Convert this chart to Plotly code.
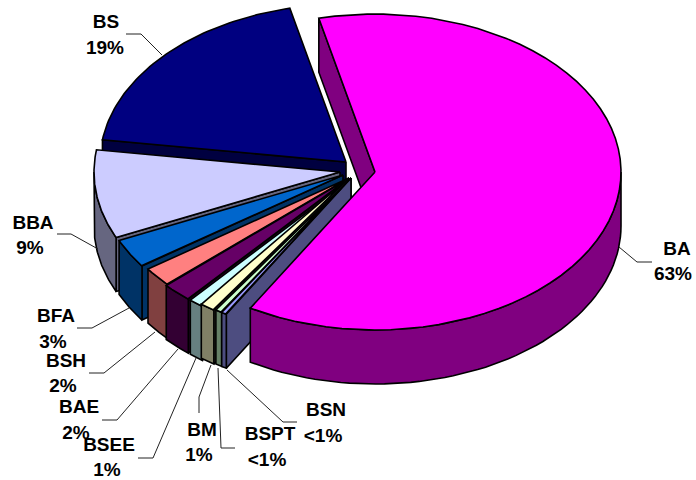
import numpy as np
import plotly.graph_objects as go

# clockwise from the top of the pie, starting with the big slice
names = ['BA', 'BSN', 'BSPT', 'BM', 'BSEE', 'BAE', 'BSH', 'BFA', 'BBA', 'BS']
values = [62.5, 0.35, 0.45, 1, 1, 2, 2, 3, 9.1, 19.2]
pct_labels = ['63%', '<1%', '<1%', '1%', '1%', '2%', '2%', '3%', '9%', '19%']
colors = ['#FF00FF', '#9999FF', '#CCFFCC', '#FFFFCC', '#CCFFFF',
          '#660066', '#FF8080', '#0066CC', '#CCCCFF', '#000080']
side_colors = ['#800080', '#4D4D80', '#668066', '#808066', '#668080',
               '#330033', '#804040', '#003366', '#666680', '#000040']

# pie geometry in page pixels
rx, ry, depth = 246, 158, 54
start_angle = -13.2
apex_x = [375, 351, 351, 349, 350, 348, 349, 343, 340, 346]
apex_y = [172, 178, 178, 178, 180, 179, 178, 175, 172, 162]

# label placement: name line, then percent line
name_x = [677, 326, 270, 202, 109, 79, 66, 56, 33, 106]
name_y = [250, 411, 435, 431, 446, 408, 362, 317, 224, 23]
pct_x = [673, 323, 267, 199, 107, 76, 63, 53, 30, 105]
pct_y = [275, 437, 461, 456, 471, 434, 387, 343, 249, 49]

leaders = [
    ([619, 637, 652], [247, 262, 262]),
    ([297, 283, 227], [422, 422, 370]),
    ([235, 221, 218], [448, 448, 368]),
    ([199, 199, 211], [413, 397, 365]),
    ([138, 153, 196], [458, 458, 358]),
    ([102, 117, 178], [420, 420, 349]),
    ([89, 104, 155], [373, 373, 332]),
    ([77, 92, 129], [328, 328, 308]),
    ([57, 71, 98], [234, 234, 249]),
    ([126, 141, 162], [34, 34, 55]),
]


def arc(cx, cy, a, b, n=60):
    t = np.radians(np.linspace(a, b, n))
    return cx + rx * np.sin(t), cy - ry * np.cos(t)


def poly(fig, xs, ys, color):
    fig.add_trace(go.Scatter(x=xs, y=ys, mode='lines', fill='toself', fillcolor=color,
                             line=dict(color='black', width=1.6), hoverinfo='skip'))


def draw_slice(fig, cx, cy, a, b, color, side):
    # cut face on the counter-clockwise edge
    px, py = arc(cx, cy, a, a, 1)
    poly(fig, [cx, px[0], px[0], cx, cx], [cy, py[0], py[0] + depth, cy + depth, cy], side)
    # outer wall, only the part that faces the viewer (lower half of the ellipse)
    for lo, hi in [(-270, -90), (90, 270)]:
        wa, wb = max(a, lo), min(b, hi)
        if wb > wa:
            ax, ay = arc(cx, cy, wa, wb)
            poly(fig, list(ax) + list(ax[::-1]) + [ax[0]],
                 list(ay) + list(ay[::-1] + depth) + [ay[0]], side)
    # top
    tx, ty = arc(cx, cy, a, b)
    poly(fig, [cx] + list(tx) + [cx], [cy] + list(ty) + [cy], color)


sweeps = np.array(values) / sum(values) * 360
starts = start_angle + np.concatenate([[0], np.cumsum(sweeps)[:-1]])
# the small slices run on from the end of BA, keep them on the left side
starts[1:] = starts[1:] - 360

fig = go.Figure()

# back to front: BS first, then round to the big slice which goes on top
for i in list(range(len(names) - 1, 0, -1)) + [0]:
    draw_slice(fig, apex_x[i], apex_y[i], starts[i], starts[i] + sweeps[i], colors[i], side_colors[i])

for lx, ly in leaders:
    fig.add_trace(go.Scatter(x=lx, y=ly, mode='lines', line=dict(color='#222222', width=1),
                             hoverinfo='skip'))

fig.add_trace(go.Scatter(x=name_x + pct_x, y=name_y + pct_y, mode='text',
                         text=names + pct_labels, textposition='middle center',
                         textfont=dict(family='Liberation Sans', size=19, color='black', weight='bold'),
                         hoverinfo='skip'))

fig.update_xaxes(range=[0, 696], visible=False, fixedrange=True)
fig.update_yaxes(range=[480, 0], visible=False, fixedrange=True)
fig.update_layout(width=696, height=480, margin=dict(l=0, r=0, t=0, b=0),
                  paper_bgcolor='white', plot_bgcolor='white', showlegend=False)

fig.write_html("out.html", config=dict(displayModeBar=False),
               post_script="document.body.style.margin='0';document.body.style.overflow='hidden';")
